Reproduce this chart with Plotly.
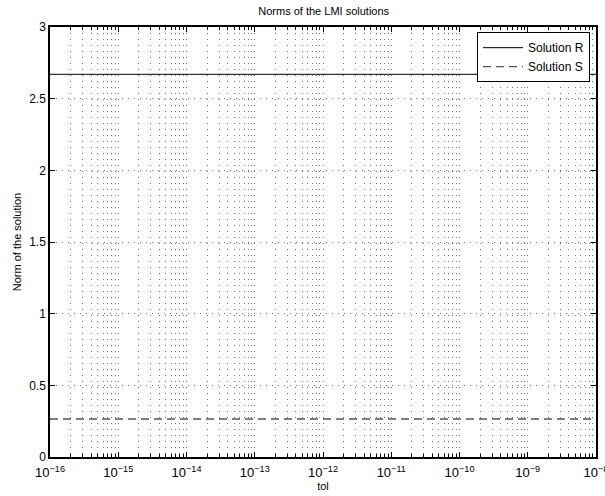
import numpy as np
import plotly.graph_objects as go

tol = [1e-16, 1e-15, 1e-14, 1e-13, 1e-12, 1e-11, 1e-10, 1e-9, 1e-8]
norm_R = [2.67, 2.67, 2.67, 2.67, 2.67, 2.67, 2.67, 2.67, 2.67]
norm_S = [0.265, 0.265, 0.265, 0.265, 0.265, 0.265, 0.265, 0.265, 0.265]
x_ticks = [1e-16, 1e-15, 1e-14, 1e-13, 1e-12, 1e-11, 1e-10, 1e-9, 1e-8]
x_labels = ["10<sup>−16</sup>", "10<sup>−15</sup>", "10<sup>−14</sup>", "10<sup>−13</sup>",
            "10<sup>−12</sup>", "10<sup>−11</sup>", "10<sup>−10</sup>", "10<sup>−9</sup>",
            "10<sup>−8</sup>"]
y_ticks = [0, 0.5, 1, 1.5, 2, 2.5, 3]
y_labels = ["0", "0.5", "1", "1.5", "2", "2.5", "3"]

font = "Liberation Sans, Arial, sans-serif"

fig = go.Figure()
fig.add_trace(go.Scatter(x=tol, y=norm_R, mode="lines", name="Solution R",
                         line=dict(color="black", width=1)))
fig.add_trace(go.Scatter(x=tol, y=norm_S, mode="lines", name="Solution S",
                         line=dict(color="#555555", width=1.3, dash="8px,5px")))

grid = dict(showgrid=True, gridcolor="#777777", gridwidth=1, griddash="1px,5px")

fig.update_layout(
    width=605, height=496,
    margin=dict(l=50, r=9, t=27, b=39, autoexpand=False),
    paper_bgcolor="white", plot_bgcolor="white",
    font=dict(family=font, size=12, color="black"),
    title=dict(text="Norms of the LMI solutions", x=0.535, xanchor="center",
               y=0.985, yanchor="top", font=dict(size=11)),
    showlegend=True,
    legend=dict(x=0.989, y=0.988, xanchor="right", yanchor="top",
                bordercolor="black", borderwidth=1, bgcolor="white",
                font=dict(size=12), tracegroupgap=0, itemwidth=40),
    xaxis=dict(type="log", range=[-16, -8], tickvals=x_ticks, ticktext=x_labels,
               showline=True, linecolor="black", linewidth=1.5, mirror="ticks",
               ticks="inside", ticklen=5, tickcolor="black", automargin=False,
               tickfont=dict(size=13), ticklabelstandoff=3, ticklabeloverflow="allow",
               minor=dict(dtick="D1", ticks="inside", ticklen=3, tickcolor="black",
                          showgrid=True, gridcolor="#777777", gridwidth=1, griddash="1px,5px"),
               title=dict(text="tol", standoff=0, font=dict(size=11)),
               zeroline=False, **grid),
    yaxis=dict(range=[0, 3], tickvals=y_ticks, ticktext=y_labels,
               showline=True, linecolor="black", linewidth=1.5, mirror="ticks",
               ticks="inside", ticklen=5, tickcolor="black", automargin=False,
               tickfont=dict(size=12), ticklabeloverflow="allow",
               title=dict(text="Norm of the solution", standoff=5, font=dict(size=11)),
               zeroline=False, **grid),
)

fig.write_html("out.html")
